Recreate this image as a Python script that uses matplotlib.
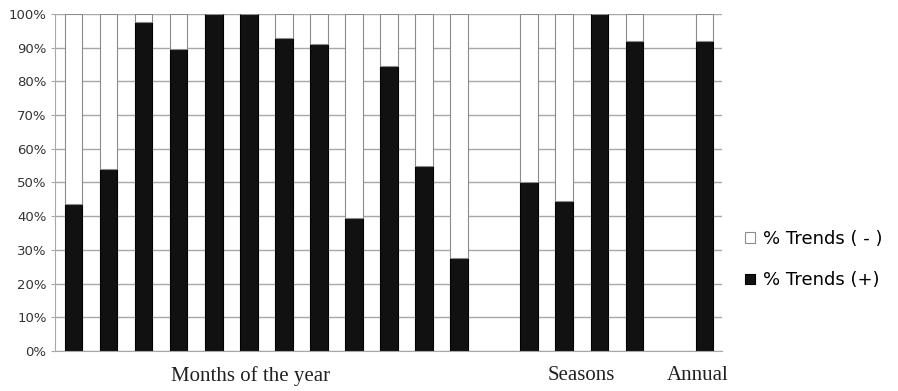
import numpy as np
import matplotlib
matplotlib.use("Agg")
import matplotlib.pyplot as plt

# share of positive trends (%) per period
months_pos = [43.5, 54, 97.5, 89.5, 100, 100, 93, 91, 39.5, 84.5, 55, 27.5]
seasons_pos = [50, 44.5, 100, 92]
annual_pos = [92]

group_labels = ["Months of the year", "Seasons", "Annual"]
legend_labels = ["% Trends ( - )", "% Trends (+)"]

# slot positions: months, one empty slot, seasons, one empty slot, annual
x_months = np.arange(len(months_pos))
x_seasons = np.arange(len(seasons_pos)) + len(months_pos) + 1
x_annual = np.arange(len(annual_pos)) + x_seasons[-1] + 2

x = np.concatenate([x_months, x_seasons, x_annual])
pos = np.array(months_pos + seasons_pos + annual_pos)
neg = 100 - pos

fig = plt.figure(figsize=(8.98, 3.91), dpi=100)
ax = fig.add_axes([0.0612, 0.1023, 0.7428, 0.8619])

grid_col = "#a8a8a8"
ax.set_axisbelow(True)
ax.yaxis.grid(True, color=grid_col, linewidth=1)

b_pos = ax.bar(x, pos, width=0.5, color="#111111", edgecolor="#000000", linewidth=0.8)
b_neg = ax.bar(x, neg, width=0.5, bottom=pos, color="white", edgecolor="#8c8c8c", linewidth=0.8)

ax.set_xlim(-0.53, 18.5)
ax.set_ylim(0, 100)
ax.set_yticks(np.arange(0, 101, 10))
ax.set_yticklabels([f"{v}%" for v in range(0, 101, 10)], fontsize=9.5, color="#333333")
ax.set_xticks([])
ax.tick_params(axis="y", length=3, color=grid_col, pad=3)

for s in ["top", "right"]:
    ax.spines[s].set_visible(False)
for s in ["left", "bottom"]:
    ax.spines[s].set_color(grid_col)

# group captions under the axis
label_x = [5.05, 14.5, 17.8]
for lx, txt in zip(label_x, group_labels):
    ax.text(lx, -4.5, txt, ha="center", va="top", fontsize=15,
            family="Liberation Serif", color="#222222", transform=ax.transData)

leg = fig.legend([b_neg, b_pos], legend_labels, loc="center left",
                 bbox_to_anchor=(0.812, 0.336), frameon=False, fontsize=13,
                 handlelength=0.55, handleheight=0.55, handletextpad=0.45,
                 labelspacing=1.3)

fig.savefig("out.png", dpi=100)
